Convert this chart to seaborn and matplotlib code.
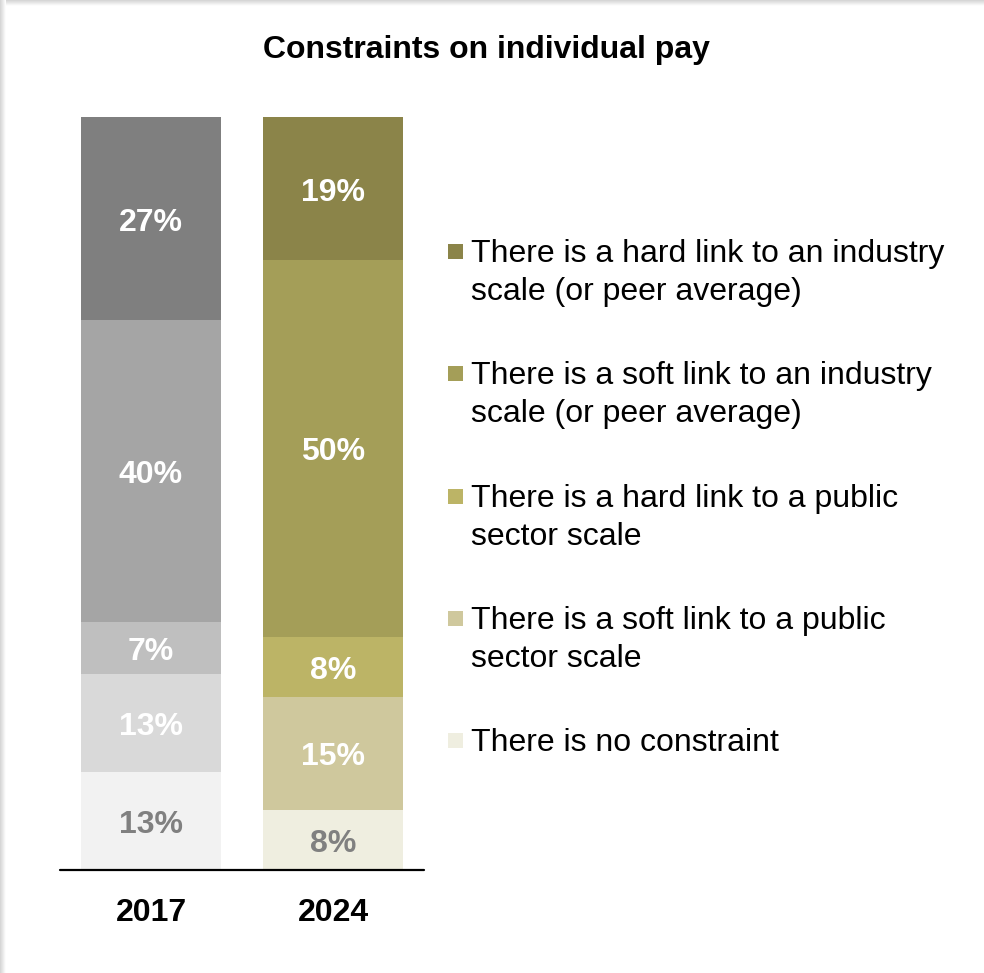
import numpy as np
import pandas as pd
import matplotlib
matplotlib.use("Agg")
import matplotlib.pyplot as plt
import matplotlib.transforms as mtransforms
from matplotlib.patches import Rectangle
import seaborn as sns

# ---- data -------------------------------------------------------------
years = ["2017", "2024"]
categories = [
    "There is no constraint",
    "There is a soft link to a public\nsector scale",
    "There is a hard link to a public\nsector scale",
    "There is a soft link to an industry\nscale (or peer average)",
    "There is a hard link to an industry\nscale (or peer average)",
]
share_2017 = [13, 13, 7, 40, 27]
share_2024 = [8, 15, 8, 50, 19]

# ---- styling ----------------------------------------------------------
colors_2017 = ["#F2F2F2", "#D9D9D9", "#BFBFBF", "#A5A5A5", "#7F7F7F"]
colors_2024 = ["#EFEEE0", "#CFC89D", "#BCB466", "#A49E58", "#8B8449"]
value_colors = ["#808080", "#FFFFFF", "#FFFFFF", "#FFFFFF", "#FFFFFF"]

sns.set_theme(style="white")
plt.rcParams["font.family"] = ["Liberation Sans", "DejaVu Sans"]

W, H = 984, 973
fig = plt.figure(figsize=(W / 100, H / 100), dpi=100)


def fx(px):
    return px / W


def fy(py):
    return 1 - py / H


ax = fig.add_axes([fx(60), fy(870), fx(424) - fx(60), fy(117) - fy(870)])

shares = np.array([share_2017, share_2024], dtype=float)  # (year, layer)
tops = np.cumsum(shares, axis=1)
bottoms = tops - shares

# stacked bars: draw cumulative heights from the top layer down
for i in reversed(range(len(categories))):
    df = pd.DataFrame({"year": years, "top": tops[:, i]})
    sns.barplot(
        data=df, x="year", y="top", hue="year",
        palette=[colors_2017[i], colors_2024[i]],
        width=0.77, saturation=1, legend=False, linewidth=0, ax=ax,
    )

# value labels centred on each segment (nudged down to optical centre)
nudge = mtransforms.ScaledTranslation(0, -4 / 100, fig.dpi_scale_trans)
for j in range(len(years)):
    for i in range(len(categories)):
        ax.text(j, bottoms[j, i] + shares[j, i] / 2, f"{int(shares[j, i])}%",
                ha="center", va="center", fontsize=23, fontweight="bold",
                color=value_colors[i], transform=ax.transData + nudge)

ax.set_xlim(-0.5, 1.5)
ax.set_ylim(0, 100)
ax.set_xlabel("")
ax.set_ylabel("")
ax.set_yticks([])
for s in ax.spines.values():
    s.set_visible(False)
ax.axhline(0, color="black", lw=1.6, clip_on=False, zorder=5)
ax.tick_params(axis="x", length=0, pad=20)
for lab in ax.get_xticklabels():
    lab.set_fontsize(23)
    lab.set_fontweight("bold")
    lab.set_color("black")

# title
fig.text(fx(486), fy(50), "Constraints on individual pay", ha="center",
         va="center", fontsize=23, fontweight="bold", color="black")

# legend, top entry first
baselines = [262, 384, 507, 629, 751]
for k, idx in enumerate(reversed(range(len(categories)))):
    lines = categories[idx].split("\n")
    b = baselines[k]
    fig.add_artist(Rectangle((fx(448), fy(b - 3)), fx(15), 15 / H,
                             transform=fig.transFigure,
                             facecolor=colors_2024[idx], edgecolor="none"))
    for n, line in enumerate(lines):
        fig.text(fx(471), fy(b + 38 * n), line, ha="left", va="baseline",
                 fontsize=23, color="black")

# soft frame shading along the top and left edges
for d in range(6):
    g = 0.84 + d * 0.03
    fig.add_artist(Rectangle((fx(d), 0), fx(1), 1, transform=fig.transFigure,
                             facecolor=(g, g, g), edgecolor="none"))
    fig.add_artist(Rectangle((fx(d), fy(d + 1)), 1, 1 / H,
                             transform=fig.transFigure,
                             facecolor=(g, g, g), edgecolor="none"))

fig.savefig("out.png", dpi=100, facecolor="white")
